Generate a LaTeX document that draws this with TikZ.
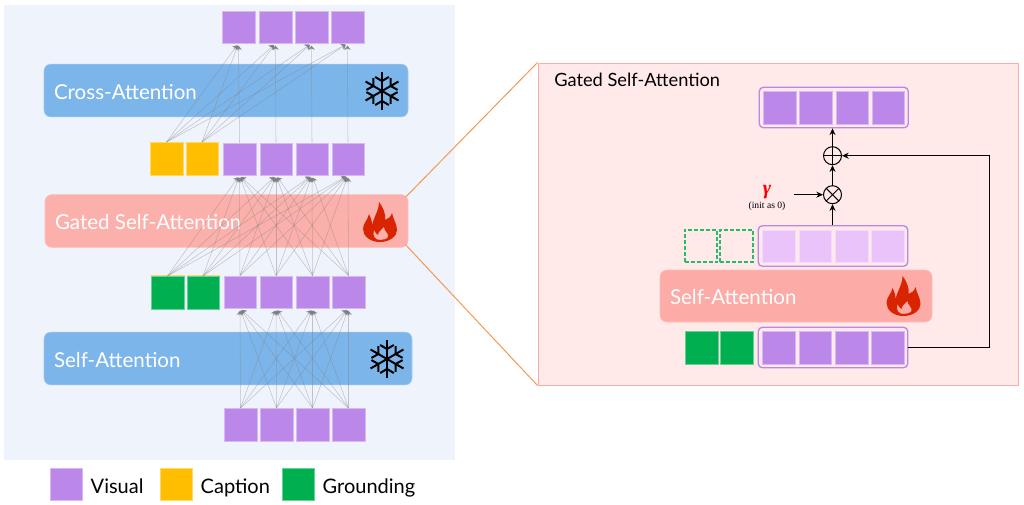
\documentclass[tikz,border=0pt]{standalone}
\usepackage{amsmath,amssymb}
\usepackage{xcolor}
\usepackage{fontspec}
\usepackage{tikz}
\usetikzlibrary{arrows.meta,positioning,fit}

\newfontfamily\boxfont{Lato}
\newfontfamily\notefont{Liberation Serif}

\definecolor{visualc}{HTML}{BB88E9}
\definecolor{visuall}{HTML}{EAC3FB}
\definecolor{captionc}{HTML}{FFBF00}
\definecolor{groundc}{HTML}{00B050}
\definecolor{frozenc}{HTML}{7CB5EA}
\definecolor{trainc}{HTML}{FCB0AC}
\definecolor{trainb}{HTML}{FDABA7}
\definecolor{panelc}{HTML}{EFF3FB}
\definecolor{insetc}{HTML}{FFE9E9}
\definecolor{flamec}{HTML}{D92400}
\definecolor{linkc}{HTML}{F29A52}

\tikzset{
  snowflake/.pic={
    \foreach \a in {30,90,...,330} {
      \draw[line width=1.5pt] (0,0) -- (\a:19);
      \draw[line width=1.5pt] (\a+26:15.6) -- (\a:10) -- (\a-26:15.6);
    }
  },
  flame/.pic={
    \fill[flamec, even odd rule]
      (0,20) .. controls (-10,20) and (-17,14) .. (-17,7)
      .. controls (-17,1) and (-12,-2) .. (-11,-8)
      .. controls (-9,-4) and (-8,-1) .. (-8,3)
      .. controls (-6,-5) and (-1,-12) .. (-1,-20)
      .. controls (3,-15) and (6,-8) .. (5,-2)
      .. controls (8,-3) and (11,-5) .. (12,-9)
      .. controls (13,-3) and (17,2) .. (17,8)
      .. controls (17,14) and (10,20) .. (0,20) -- cycle
      (0,18) .. controls (-5,18) and (-8,14) .. (-6,8)
      .. controls (-5,11) and (-3,12) .. (-2,13)
      .. controls (-2,10) and (1,8) .. (4,5)
      .. controls (4,9) and (9,11) .. (8,15)
      .. controls (7,17) and (3,18) .. (0,18) -- cycle;
  },
}

\begin{document}
\begin{tikzpicture}[
    x=0.75pt, y=-0.75pt,
    sq/.style={rectangle, minimum size=24.4pt, inner sep=0pt, line width=0.3pt},
    vis/.style={sq, fill=visualc, draw=visualc!60},
    visl/.style={sq, fill=visuall, draw=visuall!60},
    capt/.style={sq, fill=captionc, draw=captionc!60},
    gnd/.style={sq, fill=groundc, draw=groundc!60},
    gnddash/.style={sq, draw=groundc!85, line width=1.3pt, dash pattern=on 3pt off 1.5pt},
    block/.style={rectangle, rounded corners=5pt, minimum height=39.5pt, inner sep=0pt},
    frozen/.style={block, fill=frozenc, draw=frozenc!70!white, line width=0.4pt},
    train/.style={block, fill=trainc, draw=trainc!80!white, line width=0.4pt},
    blocklabel/.style={inner sep=0pt, text=white, text height=11pt, text depth=0pt, yshift=-1pt, font=\boxfont\fontsize{15.4}{17}\selectfont},
    legend/.style={inner sep=0pt, text height=11pt, text depth=3pt, yshift=-3pt, font=\boxfont\fontsize{15}{17}\selectfont},
    group/.style={rectangle, rounded corners=3pt, draw=visualc, line width=1pt, inner sep=2.8pt},
    fan/.style={draw=gray, draw opacity=0.42, line width=0.4pt, shorten >=1.5pt, -{Stealth[length=3.5pt, width=5.5pt, fill=gray]}},
    arr/.style={-{Stealth[length=5pt, width=4.5pt]}, line width=0.75pt},
    link/.style={draw=linkc, line width=0.75pt, shorten <=-3pt},
    op/.style={circle, draw, line width=0.75pt, minimum size=13.5pt, inner sep=0pt},
    oplus/.style={op, path picture={
      \draw (path picture bounding box.north) -- (path picture bounding box.south);
      \draw (path picture bounding box.west) -- (path picture bounding box.east);}},
    otimes/.style={op, path picture={
      \draw (path picture bounding box.north west) -- (path picture bounding box.south east);
      \draw (path picture bounding box.south west) -- (path picture bounding box.north east);}},
]
\useasboundingbox (0,0) rectangle (1024,504);

% Backgrounds
\node[rectangle, fill=panelc, minimum width=338.25pt, minimum height=341.25pt, inner sep=0pt] (panel) at (229.5,232.5) {};
\node[rectangle, fill=insetc, draw=trainb, line width=0.75pt, minimum width=360pt, minimum height=241.5pt, inner sep=0pt] (inset) at (778,224) {};

% Blocks
\node[frozen, minimum width=273pt] (cross) at (226,90.5) {};
\node[train, minimum width=272.25pt] (gated) at (226.5,221) {};
\node[frozen, minimum width=276pt] (self) at (228,358.5) {};
\node[blocklabel, right=7.5pt of cross.west] (crosslabel) {Cross-Attention};
\node[blocklabel, right=7.5pt of gated.west] (gatedlabel) {Gated Self-Attention};
\node[blocklabel, right=7.5pt of self.west] (selflabel) {Self-Attention};
\pic at (382,91) {snowflake};
\pic at (380,222) {flame};
\pic at (387,359) {snowflake};

\draw[link] (gated.north east) -- (inset.north west);
\draw[link] (gated.south east) -- (inset.south west);

% Token rows
\node[vis] (t1) at (238.5,27) {};
\node[vis] (t2) at (275.5,27) {};
\node[vis] (t3) at (311.5,27) {};
\node[vis] (t4) at (347.5,27) {};

\node[capt] (c1) at (166.5,158.5) {};
\node[capt] (c2) at (202,158.5) {};
\node[vis] (u1) at (239.5,159) {};
\node[vis] (u2) at (276,159) {};
\node[vis] (u3) at (312,159) {};
\node[vis] (u4) at (348,159) {};

\node[capt] (y1) at (167.5,291.5) {};
\node[capt] (y2) at (203,291.5) {};
\node[gnd] (g1) at (167.5,292.5) {};
\node[gnd] (g2) at (203,292.5) {};
\node[vis] (m1) at (240,292) {};
\node[vis] (m2) at (276,292) {};
\node[vis] (m3) at (312.5,292) {};
\node[vis] (m4) at (348.5,292) {};

\node[vis] (b1) at (240.5,424.5) {};
\node[vis] (b2) at (276.5,424.5) {};
\node[vis] (b3) at (312.5,424.5) {};
\node[vis] (b4) at (348.5,424.5) {};

% Connections
\foreach \i in {1,...,4} {
  \foreach \j in {1,...,4} {
    \draw[fan] (b\i.north) -- (m\j.south);
    \draw[fan] (m\i.north) -- (u\j.south);
  }
  \draw[fan] (g1.north) -- (u\i.south);
  \draw[fan] (g2.north) -- (u\i.south);
  \draw[fan] (c1.north) -- (t\i.south);
  \draw[fan] (c2.north) -- (t\i.south);
  \draw[fan] (u\i.north) -- (t\i.south);
}

% Legend
\node[vis] (lv) at (66,484) {};
\node[legend, right=6pt of lv] (lvtext) {Visual};
\node[capt] (lc) at (176,484) {};
\node[legend, right=6pt of lc] (lctext) {Caption};
\node[gnd] (lg) at (298,484) {};
\node[legend, right=6pt of lg] (lgtext) {Grounding};

% Right side title
\node[inner sep=0pt, anchor=west, font=\boxfont\fontsize{13.7}{15}\selectfont] (title) at (554,80) {Gated Self-Attention};

% Right side rows
\node[vis] (a1) at (779.5,107.5) {};
\node[vis] (a2) at (815.5,107.5) {};
\node[vis] (a3) at (852,107.5) {};
\node[vis] (a4) at (888,107.5) {};
\node[group, fit=(a1)(a4)] (groupa) {};

\node[gnddash] (d1) at (701,246) {};
\node[gnddash] (d2) at (736.5,246) {};
\node[visl] (e1) at (778.5,246) {};
\node[visl] (e2) at (815,246) {};
\node[visl] (e3) at (851.5,246) {};
\node[visl] (e4) at (887.5,246) {};
\node[group, fit=(e1)(e4)] (groupe) {};

\node[train, fill=trainb, minimum width=204pt, minimum height=39pt] (inner) at (796,296) {};
\node[blocklabel, right=7.5pt of inner.west] (innerlabel) {Self-Attention};
\pic at (903.5,296) {flame};

\node[gnd] (h1) at (701.5,347.5) {};
\node[gnd] (h2) at (736.5,347.5) {};
\node[vis] (f1) at (778.5,347.5) {};
\node[vis] (f2) at (815,347.5) {};
\node[vis] (f3) at (851.5,347.5) {};
\node[vis] (f4) at (887.5,347.5) {};
\node[group, fit=(f1)(f4)] (groupf) {};

% Gating path
\node[oplus] (plus) at (832.5,155.7) {};
\node[otimes] (times) at (832.5,194.7) {};
\node[align=center, inner ysep=0pt, inner xsep=6.4pt] (gamma) at (767,198) {{\color{red}\notefont\bfseries\itshape\fontsize{15}{15}\selectfont γ}\\[-2pt]{\notefont\fontsize{7.2}{8}\selectfont (init as 0)}};
\coordinate (loopturn) at (989,155.7);

\draw[arr] (groupe.north -| times) -- (times);
\draw[arr] (times) -- (plus);
\draw[arr] (plus) -- (groupa.south -| plus);
\draw[arr] (gamma.east |- times) -- (times);
\draw[arr] (groupf.east) -| (loopturn) -- (plus);

\end{tikzpicture}
\end{document}
